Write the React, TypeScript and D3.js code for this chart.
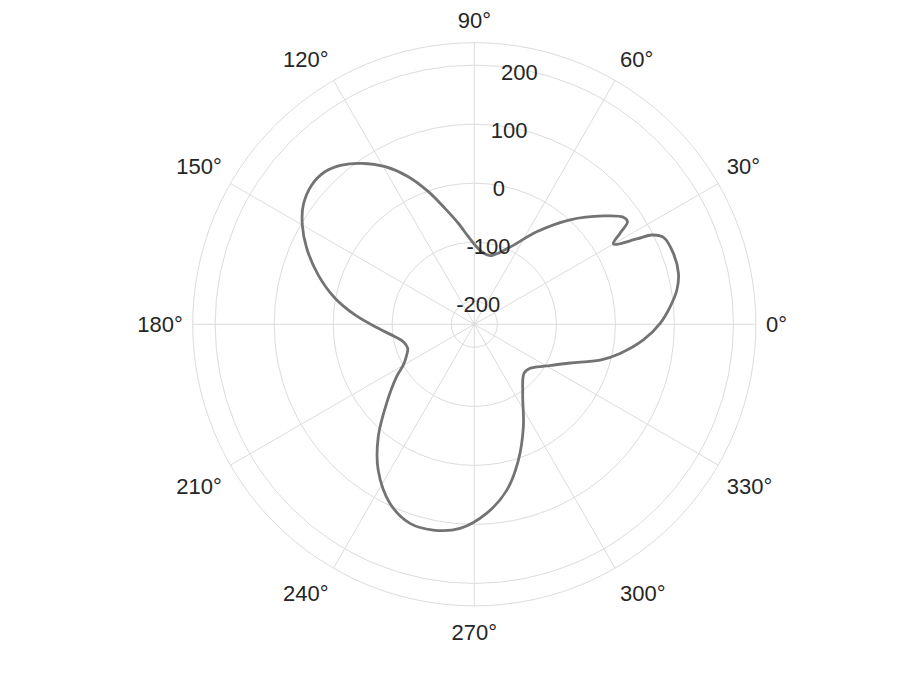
import React from 'react';
import * as d3 from 'd3';

// angle (deg, counter-clockwise from east) and radius
const thetaDeg = [
  0.3, 5.1, 9.6, 14.0, 19.6, 24.7, 26.7, 27.7, 30.0, 32.0, 33.8, 35.7, 40.0, 47.5, 56.0, 65.5,
  77.1, 84.2, 89.5, 93.9, 99.0, 104.2, 109.1, 114.1, 119.5, 125.0, 129.8, 134.4, 139.4, 145.1,
  150.0, 155.6, 162.5, 169.4, 175.5, 182.4, 188.9, 193.8, 199.8, 204.4, 209.8,
  214.0, 222.0, 229.5, 236.6, 244.8, 252.1, 258.7, 266.0,
  273.7, 281.1, 288.0, 295.6, 305.0, 315.4, 321.7, 330.1, 338.0, 344.1, 348.7, 354.7,
];
const rValues = [
  75.8, 94, 109, 117.4, 119, 113.7, 97.6, 71.9, 33, 52.2, 73.2, 71.9, 46.5, 1, -50, -96,
  -119.8, -115.4, -104.7, -90.3, -65.7, -36.4, -1.2, 34.9, 67.7, 93.8, 112.1, 122.6, 123.6, 114.2,
  97.4, 72.7, 38.1, 1, -36.3, -76.2, -103, -115.2, -119.1, -113.3, -100.5,
  -80.3, -39, 11.5, 56.8, 96.4, 115.4, 116.5, 107.6,
  82, 47.2, 2.8, -46.6, -96.1, -120.7, -118.7, -97.4, -64, -17.5, 12.8, 48.6,
];

const rLim = [-239, 238];
const rTicks = [-200, -100, 0, 100, 200];
const thetaTicks = [0, 30, 60, 90, 120, 150, 180, 210, 240, 270, 300, 330];
const rLabelAngle = 80;

const width = 914;
const height = 686;
const cx = 474.3;
const cy = 324.3;
const R = 281.6;

const textColor = '#262626';
const gridColor = '#dcdcdc';
const lineColor = '#737373';
const fontFamily = '"Liberation Sans", Arial, Helvetica, sans-serif';

export default function App() {
  const r = d3.scaleLinear().domain(rLim).range([0, R]);
  const rad = (d: number) => (d * Math.PI) / 180;

  const pts = thetaDeg.map((t, i) => ({ t, v: rValues[i] }));
  const line = d3
    .lineRadial<{ t: number; v: number }>()
    .angle(d => rad(90 - d.t))
    .radius(d => r(d.v))
    .curve(d3.curveCatmullRomClosed.alpha(0.5));

  const gap = 10;
  const thetaLabels = thetaTicks.map(t => {
    const c = Math.cos(rad(t));
    const s = Math.sin(rad(t));
    const px = (R + gap) * c;
    const py = -(R + gap) * s;
    const anchor = c > 0.01 ? 'start' : c < -0.01 ? 'end' : 'middle';
    const y = s > 0.01 ? py - 4.5 : s < -0.01 ? py + 24 : py + 7.8;
    return { t, x: px, y, anchor };
  });

  return (
    <svg
      width={width}
      height={height}
      style={{ position: 'absolute', left: 0, top: 0, display: 'block', background: '#fff' }}
    >
      <g transform={`translate(${cx},${cy})`}>
        {/* grid */}
        {thetaTicks.map(t => (
          <line
            key={`s${t}`}
            x1={0}
            y1={0}
            x2={R * Math.cos(rad(t))}
            y2={-R * Math.sin(rad(t))}
            stroke={gridColor}
            strokeWidth={1}
          />
        ))}
        {rTicks.map(v => (
          <circle key={`c${v}`} r={r(v)} fill="none" stroke={gridColor} strokeWidth={1} />
        ))}
        <circle r={R} fill="none" stroke={gridColor} strokeWidth={1} />

        {/* data */}
        <path d={line(pts) || ''} fill="none" stroke={lineColor} strokeWidth={2.8} strokeLinejoin="round" />

        {/* labels */}
        <g fontFamily={fontFamily} fontSize={22} fill={textColor}>
          {thetaLabels.map(l => (
            <text key={`t${l.t}`} x={l.x} y={l.y} textAnchor={l.anchor}>
              {`${l.t}°`}
            </text>
          ))}
          {rTicks.map(v => (
            <text
              key={`r${v}`}
              x={r(v) * Math.cos(rad(rLabelAngle))}
              y={-r(v) * Math.sin(rad(rLabelAngle)) + 10.5}
              textAnchor="middle"
            >
              {v}
            </text>
          ))}
        </g>
      </g>
    </svg>
  );
}
